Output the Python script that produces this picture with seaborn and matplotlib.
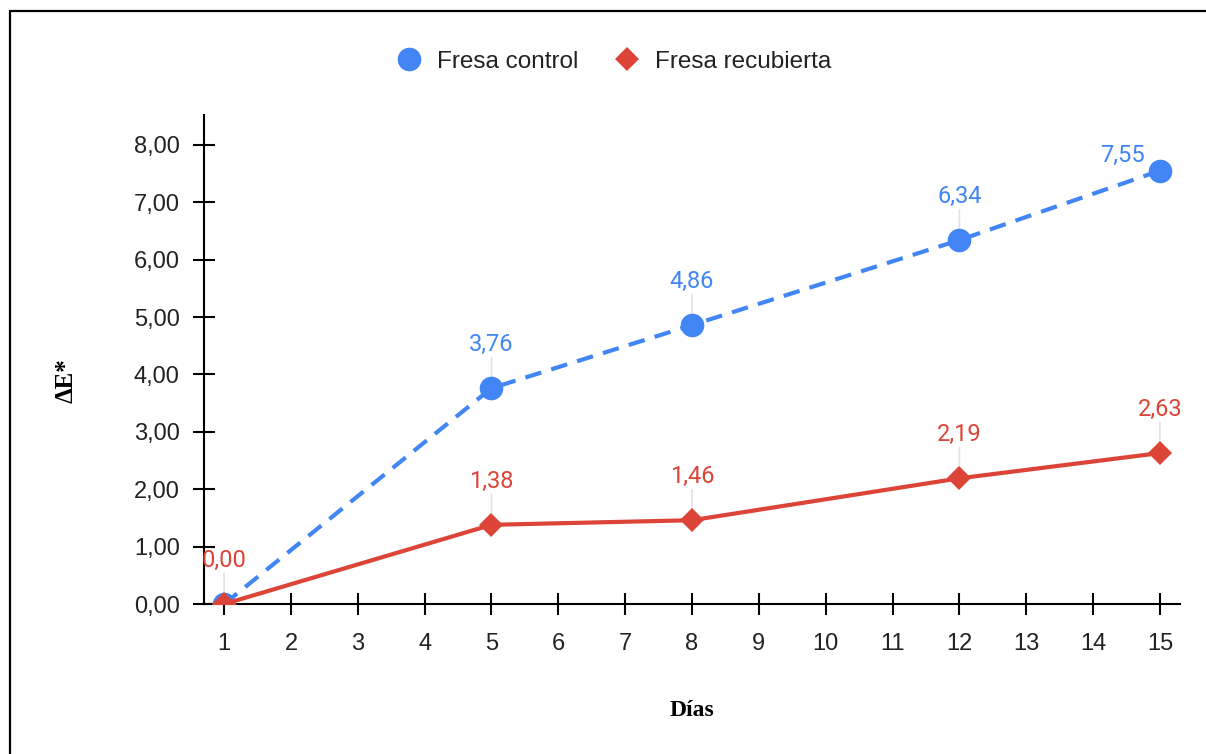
import matplotlib
matplotlib.use("Agg")
import matplotlib.pyplot as plt
import matplotlib.lines as mlines
import seaborn as sns
import pandas as pd

# Data
dias = [1, 5, 8, 12, 15]
fresa_control = [0.00, 3.76, 4.86, 6.34, 7.55]
fresa_recubierta = [0.00, 1.38, 1.46, 2.19, 2.63]
series_names = ["Fresa control", "Fresa recubierta"]
x_ticks = list(range(1, 16))
y_ticks = [0, 1, 2, 3, 4, 5, 6, 7, 8]

BLUE = "#4285F4"
RED = "#DB4437"
TEXT = "#222222"

sns.set_theme(style="white")
plt.rcParams["font.family"] = ["Liberation Sans", "DejaVu Sans"]

fig = plt.figure(figsize=(12.06, 7.54), dpi=100)
ax = fig.add_axes([0.1692, 0.1989, 0.8092, 0.6486])

df_c = pd.DataFrame({"dia": dias, "val": fresa_control})
df_r = pd.DataFrame({"dia": dias, "val": fresa_recubierta})

sns.lineplot(data=df_c, x="dia", y="val", ax=ax, color=BLUE, linewidth=3,
             linestyle=(0, (4, 2.5)), marker="o", markersize=17,
             markeredgewidth=0, zorder=3)
sns.lineplot(data=df_r, x="dia", y="val", ax=ax, color=RED, linewidth=3,
             marker="D", markersize=12.5, markeredgewidth=0, zorder=4)

Y_MAX = 8.52
ax.set_xlim(0.7, 15.3)
ax.set_ylim(0, Y_MAX)


def fmt(v):
    return f"{v:.2f}".replace(".", ",")


# Value labels with thin leader lines; labels that would leave the plot
# area at the top are moved to the upper left of their point instead.
for series, color in ((fresa_control, BLUE), (fresa_recubierta, RED)):
    for d, v in zip(dias, series):
        if color == BLUE and v == 0:
            continue
        if v > Y_MAX - 1.0:
            ax.annotate(fmt(v), xy=(d, v), xytext=(-27, 11), textcoords="offset points",
                        ha="center", va="center", color=color, fontsize=17,
                        family=["Roboto", "DejaVu Sans"], zorder=6,
                        annotation_clip=False)
            continue
        ax.annotate(fmt(v), xy=(d, v), xytext=(0, 31.5), textcoords="offset points",
                    ha="center", va="center", color=color, fontsize=17,
                    family=["Roboto", "DejaVu Sans"], zorder=6,
                    annotation_clip=False)
        ax.annotate("", xy=(d, v), xytext=(0, 22), textcoords="offset points",
                    arrowprops=dict(arrowstyle="-", color="#e3e3e3", lw=1.2,
                                    shrinkA=0, shrinkB=0),
                    annotation_clip=False, zorder=1)

ax.set_xticks(x_ticks)
ax.set_xticklabels([str(t) for t in x_ticks])
ax.set_yticks(y_ticks)
ax.set_yticklabels([fmt(t) for t in y_ticks])

for side in ("top", "right"):
    ax.spines[side].set_visible(False)
for side in ("left", "bottom"):
    ax.spines[side].set_visible(True)
    ax.spines[side].set_color("black")
    ax.spines[side].set_linewidth(1.5)

ax.tick_params(axis="both", direction="inout", length=16, width=1.5,
               colors="black", labelcolor=TEXT, labelsize=17,
               bottom=True, left=True)
ax.tick_params(axis="y", pad=9.5)
ax.tick_params(axis="x", pad=13)

ax.set_xlabel("Días", fontsize=17, fontweight="bold",
              family=["Liberation Serif", "DejaVu Serif"], color="black")
ax.set_ylabel("ΔE*", fontsize=18, fontweight="bold",
              family=["Liberation Serif", "DejaVu Serif"], color="black")
ax.xaxis.set_label_coords(0.5, -0.197)
ax.yaxis.set_label_coords(-0.130, 0.456)
ax.grid(False)

# Legend on top
handles = [
    mlines.Line2D([], [], color=BLUE, marker="o", linestyle="none", markersize=17,
                  markeredgewidth=0),
    mlines.Line2D([], [], color=RED, marker="D", linestyle="none", markersize=12.5,
                  markeredgewidth=0),
]
fig.legend(handles, series_names, loc="center", bbox_to_anchor=(0.5085, 0.918),
           ncol=2, frameon=False, fontsize=17.5, handletextpad=0.55,
           columnspacing=1.4, labelcolor=TEXT, handlelength=1.2)

# Outer frame (left and top edges)
fig.add_artist(mlines.Line2D([10 / 1206, 10 / 1206], [0, 1 - 11 / 754],
                             transform=fig.transFigure, color="black", linewidth=1.6))
fig.add_artist(mlines.Line2D([10 / 1206, 1], [1 - 11 / 754, 1 - 11 / 754],
                             transform=fig.transFigure, color="black", linewidth=1.6))

fig.savefig("out.png", dpi=100, facecolor="white")
